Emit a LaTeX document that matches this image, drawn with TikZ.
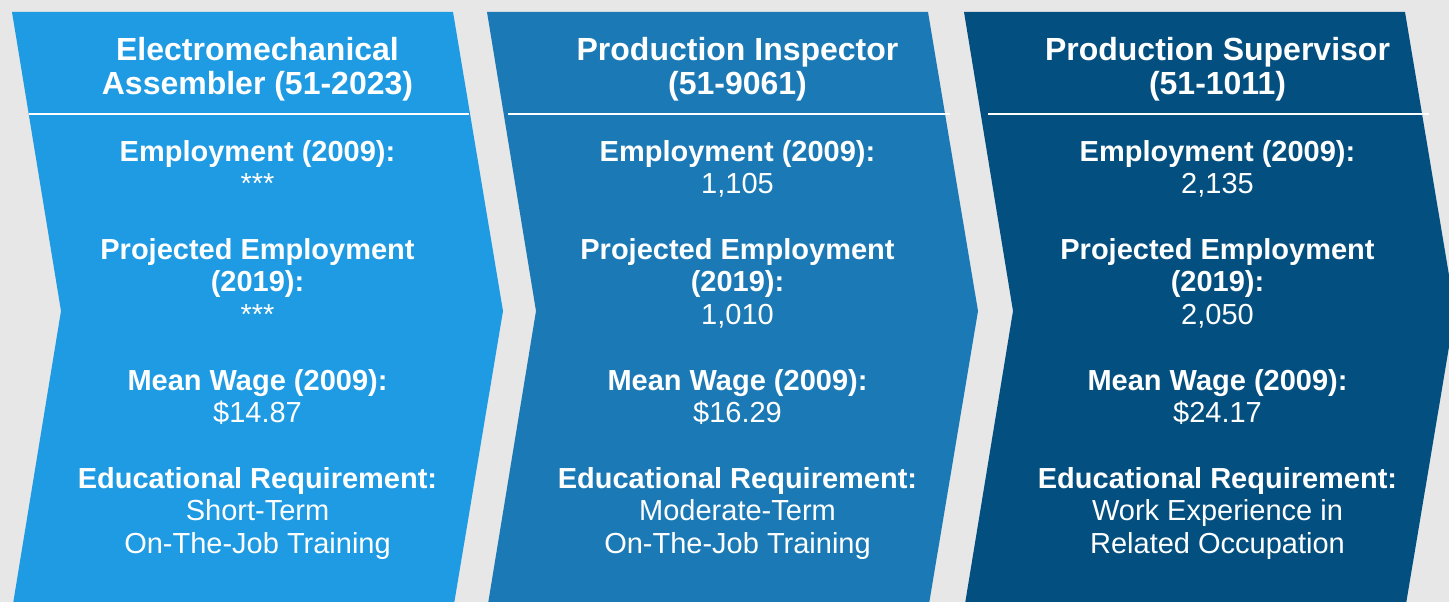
\documentclass[tikz,border=0pt]{standalone}
\usepackage{fontspec}
\setmainfont{Liberation Sans}
\usepackage{tikz}
\usetikzlibrary{positioning}
\usepackage{xcolor}

\definecolor{pagegray}{RGB}{231,231,231}
\definecolor{chevA}{RGB}{30,155,227}
\definecolor{chevB}{RGB}{27,122,181}
\definecolor{chevC}{RGB}{3,80,128}

\begin{document}
\begin{tikzpicture}[x=1pt,y=-1pt]
  \tikzstyle{chev}=[draw=none]
  \tikzstyle{jobtitle}=[text=white,align=center,anchor=north,inner sep=0pt,
    font=\fontsize{32}{34.5}\selectfont\bfseries]
  \tikzstyle{jobinfo}=[text=white,align=center,anchor=north,inner sep=0pt,
    font=\fontsize{29}{32.7}\selectfont]
  \tikzstyle{rule}=[white,line width=2pt]

  \fill[pagegray] (0,0) rectangle (1449,602);
  \useasboundingbox (0,0) rectangle (1449,602);

  % chevrons
  \fill[chev,chevA] (12,12) -- (453,12) -- (503,311) -- (453,610) -- (12,610) -- (61,311) -- cycle;
  \fill[chev,chevB] (487,12) -- (928,12) -- (978,311) -- (928,610) -- (487,610) -- (536,311) -- cycle;
  \fill[chev,chevC] (964,12) -- (1405,12) -- (1455,311) -- (1405,610) -- (964,610) -- (1013,311) -- cycle;

  \draw[rule] (29,114) -- (469,114);
  \draw[rule] (508,114) -- (950,114);
  \draw[rule] (988,114) -- (1429,114);

  \node[jobtitle] (t_1) at (257.5,35.85) {\strut Electromechanical\\Assembler (51-2023)};
  \node[jobtitle] (t_2) at (737.5,35.85) {\strut Production Inspector\\(51-9061)};
  \node[jobtitle] (t_3) at (1217.5,35.85) {\strut Production Supervisor\\(51-1011)};

  \node[jobinfo] (b_1) at (257.5,138.1) {\strut\textbf{Employment (2009):}\\***\\[32.7pt]
    \textbf{Projected Employment}\\\textbf{(2019):}\\***\\[32.7pt]
    \textbf{Mean Wage (2009):}\\\$14.87\\[32.7pt]
    \textbf{Educational Requirement:}\\Short-Term\\On-The-Job Training};
  \node[jobinfo] (b_2) at (737.5,138.1) {\strut\textbf{Employment (2009):}\\1,105\\[32.7pt]
    \textbf{Projected Employment}\\\textbf{(2019):}\\1,010\\[32.7pt]
    \textbf{Mean Wage (2009):}\\\$16.29\\[32.7pt]
    \textbf{Educational Requirement:}\\Moderate-Term\\On-The-Job Training};
  \node[jobinfo] (b_3) at (1217.5,138.1) {\strut\textbf{Employment (2009):}\\2,135\\[32.7pt]
    \textbf{Projected Employment}\\\textbf{(2019):}\\2,050\\[32.7pt]
    \textbf{Mean Wage (2009):}\\\$24.17\\[32.7pt]
    \textbf{Educational Requirement:}\\Work Experience in\\Related Occupation};
\end{tikzpicture}
\end{document}
